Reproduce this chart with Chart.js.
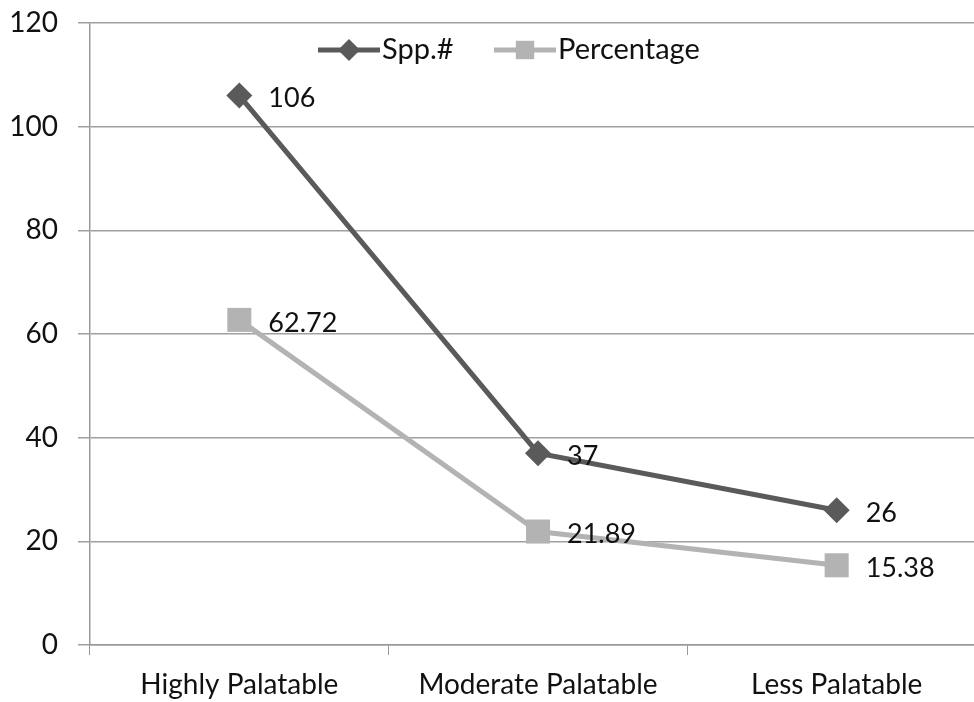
<!DOCTYPE html>
<html><head><meta charset="utf-8">
<script src="https://cdn.jsdelivr.net/npm/chart.js@4/dist/chart.umd.min.js"></script>
<style>html,body{margin:0;padding:0;background:#fff;overflow:hidden}#wrap{width:974px;height:702px;overflow:hidden}</style>
</head><body><div id="wrap"><canvas id="c" width="986" height="702"></canvas></div>
<script>
const categories = ["Highly Palatable", "Moderate Palatable", "Less Palatable"];
const seriesNames = ["Spp.#", "Percentage"];
const sppValues = [106, 37, 26];
const percentageValues = [62.72, 21.89, 15.38];
const yTicks = [0, 20, 40, 60, 80, 100, 120];

const FONT = 'Lato, "Open Sans", sans-serif';
const DARK = '#5a5a5a', LIGHT = '#b3b3b3';

const dataLabels = {
  id: 'dataLabels',
  afterDatasetsDraw(chart) {
    const ctx = chart.ctx;
    ctx.save();
    ctx.font = '27px ' + FONT;
    ctx.fillStyle = '#111';
    ctx.textBaseline = 'middle';
    ctx.textAlign = 'left';
    chart.data.datasets.forEach((ds, i) => {
      chart.getDatasetMeta(i).data.forEach((pt, j) => {
        ctx.fillText(String(ds.data[j]), pt.x + 29, pt.y + 3);
      });
    });
    ctx.restore();
  }
};

const customLegend = {
  id: 'customLegend',
  afterDraw(chart) {
    const ctx = chart.ctx;
    const items = [
      {x: 318, color: DARK, style: 'rectRot', r: 11},
      {x: 494, color: LIGHT, style: 'rect', r: 13}
    ];
    const y = 50;
    ctx.save();
    ctx.font = '29px ' + FONT;
    ctx.textBaseline = 'middle';
    items.forEach((it, i) => {
      ctx.strokeStyle = it.color; ctx.lineWidth = 5;
      ctx.beginPath(); ctx.moveTo(it.x, y); ctx.lineTo(it.x + 62, y); ctx.stroke();
      ctx.fillStyle = it.color;
      Chart.helpers.drawPoint(ctx, {pointStyle: it.style, radius: it.r, borderWidth: 0}, it.x + 31, y);
      ctx.fillStyle = '#111';
      ctx.fillText(seriesNames[i], it.x + 64, y);
    });
    ctx.restore();
  }
};

new Chart(document.getElementById('c'), {
  type: 'line',
  data: {
    labels: categories,
    datasets: [
      {label: seriesNames[0], data: sppValues, borderColor: DARK, backgroundColor: DARK,
       borderWidth: 5, pointStyle: 'rectRot', pointRadius: 13, pointBorderWidth: 0, tension: 0},
      {label: seriesNames[1], data: percentageValues, borderColor: LIGHT, backgroundColor: LIGHT,
       borderWidth: 5, pointStyle: 'rect', pointRadius: 17, pointBorderWidth: 0, tension: 0}
    ]
  },
  options: {
    responsive: false,
    animation: false,
    layout: {autoPadding: false, padding: {top: 23, right: 0, bottom: 0, left: 0}},
    plugins: {legend: {display: false}, tooltip: {enabled: false}},
    scales: {
      x: {
        offset: true,
        afterFit(s) { s.height = 57; s.paddingLeft = 0; s.paddingRight = 0; },
        grid: {offset: true, drawOnChartArea: false, tickLength: 10, color: '#999'},
        border: {color: '#999', width: 1.5},
        ticks: {font: {family: FONT, size: 28}, color: '#111', padding: 13, maxRotation: 0}
      },
      y: {
        min: 0, max: 120,
        afterFit(s) { s.width = 90; s.paddingTop = 0; s.paddingBottom = 0; },
        afterBuildTicks(s) { s.ticks = yTicks.map(v => ({value: v})); },
        grid: {color: '#a0a0a0', lineWidth: 1.5, tickLength: 12},
        border: {color: '#999', width: 1.5},
        ticks: {font: {family: FONT, size: 28}, color: '#111', padding: 20}
      }
    }
  },
  plugins: [dataLabels, customLegend]
});
</script></body></html>
